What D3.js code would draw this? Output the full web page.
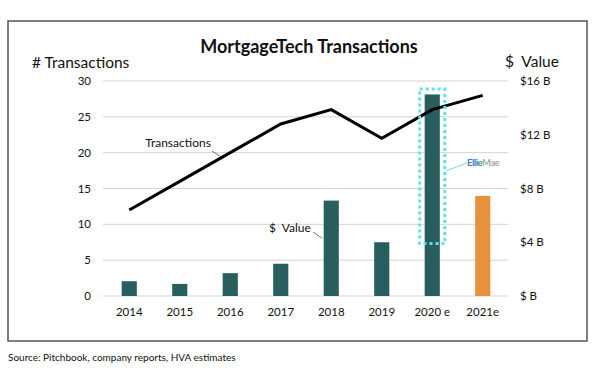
<!DOCTYPE html>
<html>
<head>
<meta charset="utf-8">
<title>MortgageTech Transactions</title>
<style>
  body { margin: 0; background: #fff; }
  text { font-family: 'Lato', 'Open Sans', sans-serif; fill: #111; }
</style>
<script src="https://d3js.org/d3.v7.min.js"></script>
</head>
<body>
<div id="chart"></div>
<script>
var years = ["2014", "2015", "2016", "2017", "2018", "2019", "2020 e", "2021e"];
var dealValue = [1.1, 0.9, 1.7, 2.4, 7.1, 4.0, 15.0, 7.45];   // $ B
var transactions = [12, 16, 20, 24, 26, 22, 26, 28];
var leftTicks = [0, 5, 10, 15, 20, 25, 30];
var rightTicks = [0, 4, 8, 12, 16];
var rightLabels = ["$ B", "$4 B", "$8 B", "$12 B", "$16 B"];
var ellieMaeRange = [3.9, 15.4];   // $ B, dotted highlight box

var svg = d3.select("#chart").append("svg")
    .attr("width", 600)
    .attr("height", 370);

// frame
svg.append("rect")
    .attr("x", 8).attr("y", 21)
    .attr("width", 579).attr("height", 320)
    .attr("fill", "none")
    .attr("stroke", "#555")
    .attr("stroke-width", 1.5);

var x = d3.scaleBand().domain(years).range([104, 508]).paddingInner(0.7).paddingOuter(0.35);
var yL = d3.scaleLinear().domain([0, 30]).range([296, 81]);
var yR = d3.scaleLinear().domain([0, 16]).range([296, 81]);
var cx = function(d) { return x(d) + x.bandwidth() / 2; };

// gridlines
svg.append("g").selectAll("line").data(leftTicks).join("line")
    .attr("x1", 103).attr("x2", 508)
    .attr("y1", d => yL(d)).attr("y2", d => yL(d))
    .attr("stroke", "#d3d3d3").attr("stroke-width", 1);

// left axis labels
svg.append("g").selectAll("text").data(leftTicks).join("text")
    .attr("x", 91).attr("y", d => yL(d) + 4)
    .attr("text-anchor", "end")
    .attr("font-size", 11.5)
    .text(d => d);

// right axis labels
svg.append("g").selectAll("text").data(rightTicks).join("text")
    .attr("x", 520).attr("y", d => yR(d) + 4)
    .attr("font-size", 11.5)
    .text((d, i) => rightLabels[i]);

// x labels
svg.append("g").selectAll("text").data(years).join("text")
    .attr("x", d => cx(d)).attr("y", 316)
    .attr("text-anchor", "middle")
    .attr("font-size", 11.5)
    .text(d => d);

// bars
svg.append("g").selectAll("rect").data(years).join("rect")
    .attr("x", d => x(d))
    .attr("width", x.bandwidth())
    .attr("y", (d, i) => yR(dealValue[i]))
    .attr("height", (d, i) => yR(0) - yR(dealValue[i]))
    .attr("fill", (d, i) => i === years.length - 1 ? "#e8913c" : "#285e5e");

// transactions line
var line = d3.line()
    .x((d, i) => cx(years[i]))
    .y(d => yL(d));
svg.append("path")
    .datum(transactions)
    .attr("d", line)
    .attr("fill", "none")
    .attr("stroke", "#000")
    .attr("stroke-width", 3);

// EllieMae highlight
var hx = x("2020 e");
svg.append("rect")
    .attr("x", hx - 5).attr("width", x.bandwidth() + 10)
    .attr("y", yR(ellieMaeRange[1]))
    .attr("height", yR(ellieMaeRange[0]) - yR(ellieMaeRange[1]))
    .attr("fill", "none")
    .attr("stroke", "#5ee3ea")
    .attr("stroke-width", 3)
    .attr("stroke-dasharray", "3,3");

svg.append("rect")
    .attr("x", 461).attr("y", 155)
    .attr("width", 47).attr("height", 14)
    .attr("fill", "#fff");
svg.append("line")
    .attr("x1", hx + x.bandwidth() + 6).attr("y1", 171)
    .attr("x2", 467).attr("y2", 163)
    .attr("stroke", "#5ee3ea").attr("stroke-width", 1);
var logo = svg.append("text")
    .attr("x", 467).attr("y", 166)
    .attr("font-size", 9.5)
    .attr("font-weight", "bold")
    .attr("letter-spacing", -0.5);
logo.append("tspan").attr("fill", "#3b7dc0").text("Ellie");
logo.append("tspan").attr("fill", "#a8a8a8").text("Mae");

// annotations
svg.append("text")
    .attr("x", 178).attr("y", 147)
    .attr("text-anchor", "middle")
    .attr("font-size", 12)
    .text("Transactions");
svg.append("line")
    .attr("x1", 212).attr("y1", 151).attr("x2", 221).attr("y2", 157)
    .attr("stroke", "#555").attr("stroke-width", 0.8);

svg.append("text")
    .attr("x", 269).attr("y", 232)
    .attr("font-size", 12)
    .attr("xml:space", "preserve")
    .text("$  Value");
svg.append("line")
    .attr("x1", 313).attr("y1", 232).attr("x2", 322).attr("y2", 238)
    .attr("stroke", "#555").attr("stroke-width", 0.8);

// titles
svg.append("text")
    .attr("x", 309).attr("y", 53)
    .attr("text-anchor", "middle")
    .attr("font-size", 18)
    .attr("font-weight", "bold")
    .text("MortgageTech Transactions");
svg.append("text")
    .attr("x", 32).attr("y", 68)
    .attr("font-size", 15.5)
    .text("# Transactions");
svg.append("text")
    .attr("x", 505).attr("y", 67)
    .attr("font-size", 15.5)
    .attr("xml:space", "preserve")
    .text("$  Value");

svg.append("text")
    .attr("x", 8).attr("y", 361)
    .attr("font-size", 10)
    .text("Source: Pitchbook, company reports, HVA estimates");
</script>
</body>
</html>
